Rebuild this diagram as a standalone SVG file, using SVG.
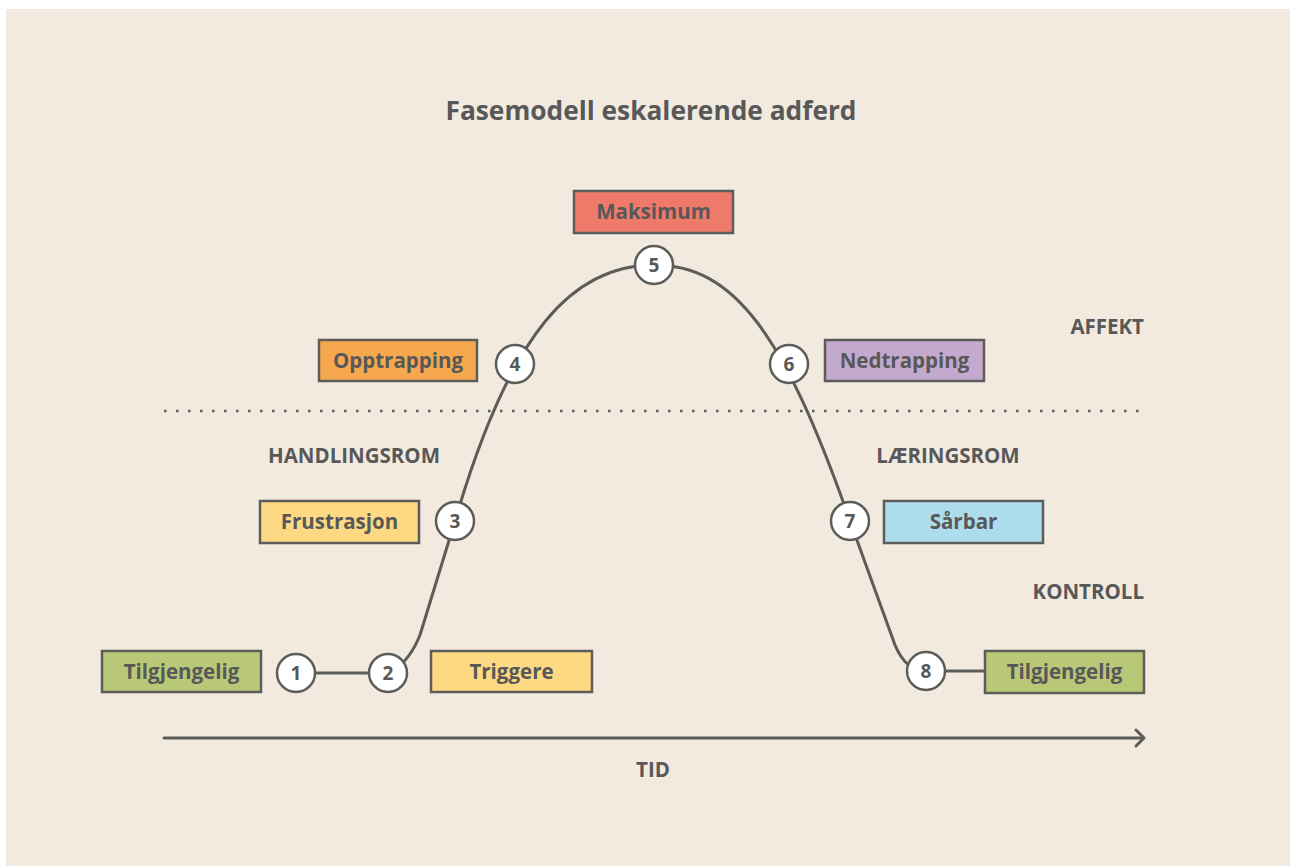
<svg xmlns="http://www.w3.org/2000/svg" width="1296" height="866" viewBox="0 0 1296 866">
<style>
.bg{fill:#F2EADF}
.box{stroke:#5C5C58;stroke-width:2.5}
.lbl{font-family:"Open Sans","Liberation Sans",sans-serif;font-weight:700;font-size:20.5px;fill:#585858;text-anchor:middle}
.sec{font-family:"Open Sans","Liberation Sans",sans-serif;font-weight:700;font-size:20.5px;fill:#585858}
.num{font-family:"Open Sans","Liberation Sans",sans-serif;font-weight:700;font-size:19px;fill:#585858;text-anchor:middle}
.circ{fill:#FFFFFF;stroke:#5C5C58;stroke-width:2.5}
.ln{fill:none;stroke:#5C5C58;stroke-width:3;stroke-linecap:round;stroke-linejoin:round}
</style>
<rect width="1296" height="866" fill="#FFFFFF"/>
<rect class="bg" x="6" y="9" width="1284" height="857"/>
<text x="651" y="120" text-anchor="middle" font-family="'Open Sans','Liberation Sans',sans-serif" font-weight="700" font-size="26.3" fill="#585858">Fasemodell eskalerende adferd</text>

<g id="zones">
<line x1="164" y1="411" x2="1146" y2="411" stroke="#5C5C58" stroke-width="2.5" stroke-dasharray="2.5 9.5"/>
<text class="sec" x="1144" y="334" text-anchor="end">AFFEKT</text>
<text class="sec" x="354" y="463" text-anchor="middle">HANDLINGSROM</text>
<text class="sec" x="948" y="463" text-anchor="middle">LÆRINGSROM</text>
<text class="sec" x="1144" y="599" text-anchor="end">KONTROLL</text>
</g>

<g id="axis">
<line class="ln" x1="164" y1="738" x2="1143" y2="738"/>
<polyline class="ln" points="1136,730 1144,738 1136,746"/>
<text class="sec" x="653" y="777" text-anchor="middle">TID</text>
</g>

<g id="connectors">
<line class="ln" x1="296" y1="673" x2="388" y2="673"/>
<path class="ln" d="M 394 670 C 406 662, 414 650, 420 635 L 455 521 C 511 329, 574 265, 654 265 C 734 265, 784 333, 850 521 L 895 645 C 902 662, 912 671, 926 671 L 985 671"/>
</g>

<g id="node-maksimum"><rect class="box" x="574" y="191" width="159" height="42" fill="#EF7A6A"/><text class="lbl" x="653.5" y="219">Maksimum</text></g>
<g id="node-opptrapping"><rect class="box" x="319" y="340" width="158" height="41" fill="#F6A84E"/><text class="lbl" x="398" y="367.5">Opptrapping</text></g>
<g id="node-nedtrapping"><rect class="box" x="825" y="340" width="159" height="41" fill="#C3A9CD"/><text class="lbl" x="904.5" y="367.5">Nedtrapping</text></g>
<g id="node-frustrasjon"><rect class="box" x="260" y="501" width="159" height="42" fill="#FDD984"/><text class="lbl" x="339.5" y="529">Frustrasjon</text></g>
<g id="node-sarbar"><rect class="box" x="884" y="501" width="159" height="42" fill="#ADDDED"/><text class="lbl" x="963.5" y="529">Sårbar</text></g>
<g id="node-tilgjengelig-1"><rect class="box" x="102" y="651" width="159" height="41" fill="#B9C877"/><text class="lbl" x="181.5" y="678.5">Tilgjengelig</text></g>
<g id="node-triggere"><rect class="box" x="431" y="651" width="161" height="41" fill="#FDD984"/><text class="lbl" x="511.5" y="678.5">Triggere</text></g>
<g id="node-tilgjengelig-2"><rect class="box" x="985" y="651" width="159" height="42" fill="#B9C877"/><text class="lbl" x="1064.5" y="679">Tilgjengelig</text></g>

<g id="step-1"><circle class="circ" cx="296" cy="673" r="19"/><text class="num" x="296" y="680">1</text></g>
<g id="step-2"><circle class="circ" cx="388" cy="673" r="19"/><text class="num" x="388" y="680">2</text></g>
<g id="step-3"><circle class="circ" cx="455" cy="521" r="19"/><text class="num" x="455" y="528">3</text></g>
<g id="step-4"><circle class="circ" cx="515" cy="364" r="19"/><text class="num" x="515" y="371">4</text></g>
<g id="step-5"><circle class="circ" cx="654" cy="265" r="19"/><text class="num" x="654" y="272">5</text></g>
<g id="step-6"><circle class="circ" cx="789" cy="364" r="19"/><text class="num" x="789" y="371">6</text></g>
<g id="step-7"><circle class="circ" cx="850" cy="521" r="19"/><text class="num" x="850" y="528">7</text></g>
<g id="step-8"><circle class="circ" cx="926" cy="671" r="19"/><text class="num" x="926" y="678">8</text></g>
</svg>
